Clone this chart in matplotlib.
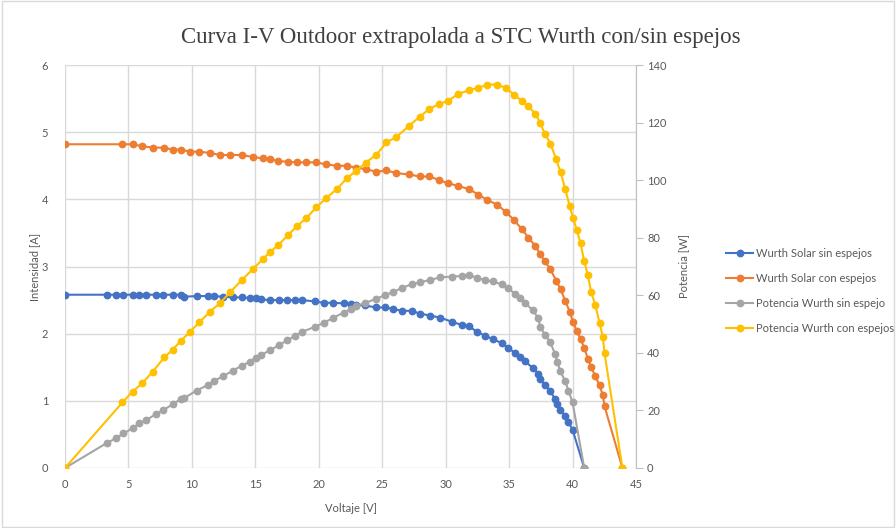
import matplotlib
matplotlib.use("Agg")
import matplotlib.pyplot as plt
from matplotlib.patches import Rectangle

# ---- data ----
v_sin = [0, 3.34, 4.05, 4.61, 5.32, 5.85, 6.42, 7.16, 7.74, 8.55,
         9.13, 9.40, 10.37, 11.25, 11.77, 12.43, 13.22, 13.96, 14.55, 15.06,
         15.46, 16.17, 16.85, 17.48, 18.09, 18.69, 19.67, 20.38, 21.11, 21.96,
         22.57, 22.96, 23.62, 24.54, 25.2, 25.85, 26.52, 27.31, 27.96, 28.75,
         29.54, 30.46, 31.25, 31.86, 32.44, 33.1, 33.7, 34.41, 34.94, 35.46,
         35.86, 36.25, 36.86, 37.31, 37.45, 37.84, 38.23, 38.63, 38.8, 39.02,
         39.42, 39.68, 40.0, 40.92]
i_sin = [2.58, 2.58, 2.58, 2.58, 2.58, 2.58, 2.58, 2.58, 2.58, 2.58,
         2.58, 2.55, 2.56, 2.56, 2.56, 2.55, 2.54, 2.54, 2.53, 2.53,
         2.51, 2.50, 2.50, 2.50, 2.50, 2.50, 2.48, 2.46, 2.46, 2.45,
         2.44, 2.43, 2.42, 2.39, 2.39, 2.37, 2.34, 2.34, 2.30, 2.27,
         2.24, 2.18, 2.13, 2.11, 2.03, 1.97, 1.92, 1.86, 1.79, 1.71,
         1.65, 1.59, 1.49, 1.40, 1.32, 1.23, 1.15, 1.02, 0.95, 0.87,
         0.77, 0.68, 0.57, 0]
p_sin = [0, 8.8, 10.4, 12.0, 13.8, 15.5, 16.7, 18.7, 20.1, 22.3,
         24.0, 24.3, 26.9, 28.8, 30.3, 31.8, 33.8, 35.6, 36.9, 38.3,
         39.2, 41.0, 42.6, 44.3, 45.8, 47.3, 49.0, 50.4, 52.1, 54.0,
         55.3, 56.3, 57.3, 58.8, 60.0, 61.1, 62.5, 63.8, 64.5, 65.3,
         66.2, 66.5, 66.7, 67.2, 66.0, 65.3, 64.8, 63.8, 62.4, 60.5,
         59.1, 57.4, 54.8, 52.0, 49.0, 46.3, 43.8, 39.5, 36.8, 33.8,
         30.2, 26.8, 22.8, 0]

v_con = [0, 4.53, 5.32, 6.1, 6.9, 7.82, 8.48, 9.14, 9.85, 10.58,
         11.43, 12.22, 13.0, 13.96, 14.8, 15.58, 16.17, 16.77, 17.56, 18.27,
         19.01, 19.8, 20.59, 21.43, 22.22, 22.96, 23.7, 24.54, 25.33, 26.12,
         27.12, 27.96, 28.69, 29.47, 30.16, 30.99, 31.86, 32.57, 33.28, 34.07,
         34.76, 35.39, 35.99, 36.52, 37.05, 37.44, 37.8, 38.26, 38.7, 39.06,
         39.42, 39.77, 40.04, 40.34, 40.63, 40.92, 41.2, 41.47, 41.79, 42.13,
         42.39, 42.52, 43.93]
i_con = [4.82, 4.82, 4.82, 4.79, 4.77, 4.77, 4.74, 4.74, 4.71, 4.71,
         4.69, 4.66, 4.66, 4.66, 4.63, 4.61, 4.60, 4.57, 4.56, 4.55,
         4.55, 4.55, 4.52, 4.50, 4.50, 4.47, 4.45, 4.41, 4.43, 4.39,
         4.37, 4.34, 4.34, 4.29, 4.24, 4.20, 4.15, 4.07, 3.99, 3.92,
         3.81, 3.69, 3.56, 3.43, 3.31, 3.19, 3.08, 2.96, 2.79, 2.66,
         2.49, 2.33, 2.17, 2.04, 1.92, 1.79, 1.63, 1.50, 1.37, 1.23,
         1.08, 0.92, 0]
p_con = [0, 22.8, 26.5, 29.5, 33.4, 38.4, 41.1, 44.2, 47.3, 50.6,
         54.3, 57.3, 61.0, 65.4, 69.1, 72.5, 75.1, 77.3, 80.8, 84.0,
         86.8, 90.5, 93.8, 96.9, 100.7, 103.2, 106.1, 108.8, 113.1, 115.0,
         118.9, 122.0, 124.7, 126.4, 127.5, 129.9, 131.3, 132.0, 133.2, 133.2,
         132.0, 129.7, 127.5, 125.6, 123.1, 120.0, 116.2, 112.7, 107.3, 102.7,
         96.9, 91.1, 86.8, 82.6, 78.0, 71.8, 67.1, 61.0, 56.7, 50.3,
         45.4, 39.8, 0]

labels = ["Wurth Solar sin espejos", "Wurth Solar con espejos",
          "Potencia Wurth sin espejo", "Potencia Wurth con espejos"]
title = "Curva I-V Outdoor extrapolada a STC Wurth con/sin espejos"
x_ticks = [0, 5, 10, 15, 20, 25, 30, 35, 40, 45]
y_ticks = [0, 1, 2, 3, 4, 5, 6]
y2_ticks = [0, 20, 40, 60, 80, 100, 120, 140]

# ---- style ----
plt.rcParams['font.family'] = ['Lato', 'DejaVu Sans']
c_blue, c_orange, c_gray, c_yellow = "#4472C4", "#ED7D31", "#A5A5A5", "#FFC000"
txt = "#595959"
grid = "#D9D9D9"

fig = plt.figure(figsize=(8.96, 5.28), dpi=100)
fig.patches.append(Rectangle((0.002, 0.002), 0.996, 0.996, transform=fig.transFigure,
                             fill=False, edgecolor="#D9D9D9", lw=1))
ax = fig.add_axes([65/896, 1-468/528, (636-65)/896, (468-65)/528])
ax2 = ax.twinx()

ms = 4.6
lw = 1.5
h1, = ax.plot(v_sin, i_sin, color=c_blue, marker='o', ms=ms, lw=lw, label=labels[0])
h2, = ax.plot(v_con, i_con, color=c_orange, marker='o', ms=ms, lw=lw, label=labels[1])
h3, = ax2.plot(v_sin, p_sin, color=c_gray, marker='o', ms=ms, lw=lw, label=labels[2])
h4, = ax2.plot(v_con, p_con, color=c_yellow, marker='o', ms=ms, lw=lw, label=labels[3])

ax.set_xlim(0, 45)
ax.set_ylim(0, 6)
ax2.set_ylim(0, 140)
ax.set_xticks(x_ticks)
ax.set_yticks(y_ticks)
ax2.set_yticks(y2_ticks)

ax.grid(True, color=grid, lw=1)
ax.set_axisbelow(True)
for a in (ax, ax2):
    for s in a.spines.values():
        s.set_visible(False)
ax2.spines['right'].set_visible(True)
ax2.spines['right'].set_color("#BFBFBF")

ax.tick_params(axis='x', length=0, labelsize=8, colors=txt, pad=8)
ax.tick_params(axis='y', length=0, labelsize=8, colors=txt, pad=12)
ax2.tick_params(axis='y', length=5, color="#BFBFBF", labelsize=8, labelcolor=txt, pad=3)

ax.set_xlabel("Voltaje [V]", fontsize=8, color=txt, labelpad=9)
ax.set_ylabel("Intensidad [A]", fontsize=8, color=txt, labelpad=1)
ax2.set_ylabel("Potencia [W]", fontsize=8, color=txt, labelpad=8)

fig.text(461/896, 1-37/528, title, ha='center', va='center', fontsize=16.5,
         color="#404040", family=['Liberation Serif', 'DejaVu Serif'])

leg = fig.legend(handles=[h1, h2, h3, h4], loc='center left',
                 bbox_to_anchor=(722/896, 1-291/528), frameon=False,
                 fontsize=8, labelcolor=txt, handlelength=2.4, labelspacing=1.25,
                 handletextpad=0.3, borderaxespad=0)

fig.savefig("out.png", dpi=100)
